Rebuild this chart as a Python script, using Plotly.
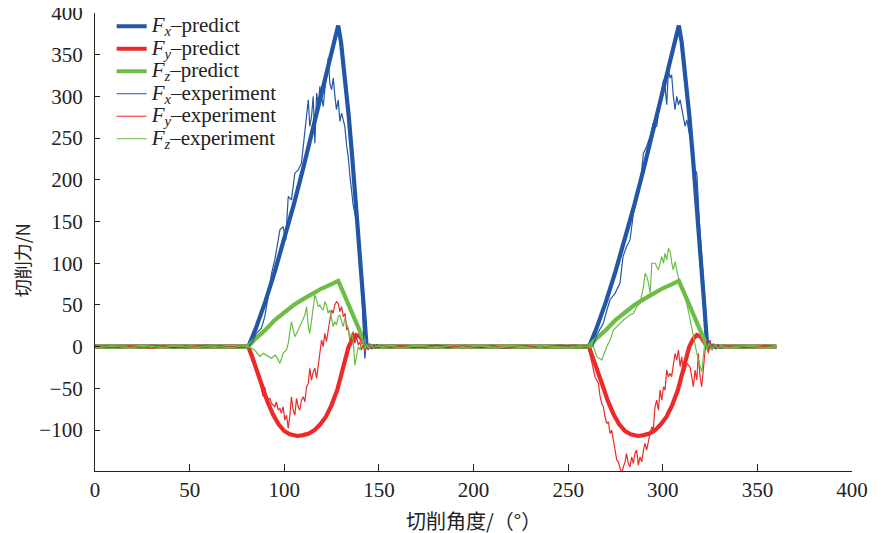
import plotly.graph_objects as go

# ---------------- axis ticks ----------------
x_ticks = [0, 50, 100, 150, 200, 250, 300, 350, 400]
y_ticks = [-100, -50, 0, 50, 100, 150, 200, 250, 300, 350, 400]

# ---------------- predicted forces ----------------
fx_pred_x = [0, 81, 85, 90, 95, 100, 105, 110, 115, 120, 125, 128.5, 130, 132, 134, 136, 138, 140, 142, 143.5,
             261, 265, 270, 275, 280, 285, 290, 295, 300, 305, 308.5, 310, 312, 314, 316, 318, 320, 322, 323.5, 360]
fx_pred_y = [0, 0, 22, 54, 90, 128, 170, 214, 260, 305, 348, 385, 365, 325, 278, 225, 170, 110, 48, 0,
             0, 22, 54, 90, 128, 170, 214, 260, 305, 348, 385, 365, 325, 278, 225, 170, 110, 48, 0, 0]

fy_pred_x = [0, 81, 83, 85, 88, 91, 94, 97, 100, 103, 107, 110, 113, 116, 119, 122, 125, 128, 131, 134, 136, 138, 140, 142, 143.5,
             261, 263, 265, 268, 271, 274, 277, 280, 283, 287, 290, 293, 296, 299, 302, 305, 308, 311, 314, 316, 318, 320, 322, 323.5, 360]
fy_pred_y = [0, 0, -12, -24, -45, -65, -81, -93, -101, -105, -107, -106, -104, -100, -93, -84, -70, -52, -27, 0, 9, 14, 12, 5, 0,
             0, -12, -24, -45, -65, -81, -93, -101, -105, -107, -106, -104, -100, -93, -84, -70, -52, -27, 0, 9, 14, 12, 5, 0, 0]

fz_pred_x = [0, 81, 85, 90, 95, 100, 105, 110, 115, 120, 125, 128.5, 131, 134, 137, 140, 143.5,
             261, 265, 270, 275, 280, 285, 290, 295, 300, 305, 308.5, 311, 314, 317, 320, 323.5, 360]
fz_pred_y = [0, 0, 10, 20, 32, 41, 50, 57, 64, 70, 75, 79, 66, 50, 33, 17, 0,
             0, 10, 20, 32, 41, 50, 57, 64, 70, 75, 79, 66, 50, 33, 17, 0, 0]

# ---------------- experimental forces ----------------
fx_exp_x = [0, 6, 12, 18, 24, 30, 36, 42, 48, 54, 60, 66, 72, 78,
            81, 83, 85.3, 87.9, 89.7, 91.5, 93.3, 95, 96.5, 97.7, 99.4, 100.8, 102.1, 103.8, 105.6, 107.4,
            109.1, 110.9, 112.7, 113.5, 114.4, 115.3, 116.2, 117.1, 118, 118.8, 119.7, 120.6, 121.5, 122.4,
            123.2, 124.1, 125, 125.9, 126.8, 127.6, 128.5, 129.4, 130.3, 131.2, 132, 133, 133.8, 134.7, 135.6,
            136.4, 137.3, 138.2, 139.1, 140, 140.9, 141.7, 142.6, 143.5, 144.3, 145.2, 146.1, 147, 148, 149, 150, 152,
            156, 162, 168, 174, 180, 186, 192, 198, 204, 210, 216, 222, 228, 234, 240, 246, 252, 258,
            260.7, 263, 265.1, 268.6, 270.5, 272.1, 274.8, 277.4, 279, 280.9, 282.7, 284.5, 286.2, 288, 289.8,
            291.5, 293.3, 295, 296.8, 298.6, 300.4, 301.2, 302.1, 303, 303.9, 304.7, 305.6, 306.5, 307.4, 308.3,
            309.2, 310.9, 311.8, 312.7, 313.6, 314.4, 315.3, 316.2, 318, 319.7, 321.1, 322.4, 323.3, 324.1, 325,
            326, 326.8, 328, 329, 330.3, 332,
            336, 342, 348, 354, 360]
fx_exp_y = [1, -1, 1, 0, -1, 2, 0, -1, 1, -1, 0, 1, -1, 0,
            0, 5, 16, 22, 36, 60, 88, 104, 125, 140, 144, 128, 180, 176, 208, 212,
            220, 256, 296, 264, 276, 300, 244, 304, 290, 312, 300, 288, 310, 324,
            346, 316, 308, 322, 300, 284, 296, 270, 280, 270, 264, 240, 228, 205, 184,
            170, 160, 150, 136, 110, 76, 24, -14, 8, -4, 4, -3, 2, -2, 3, -1, 1, 0,
            1, -1, 0, 2, -1, 1, 0, -1, 1, -2, 0, 1, -1, 0, 2, -1, 1, 0,
            0, 14, 28, 44, 56, 64, 76, 108, 120, 128, 160, 176, 192, 232, 240,
            252, 268, 264, 296, 320, 312, 290, 332, 322, 326, 300, 284, 300, 290, 296,
            272, 264, 272, 260, 250, 240, 216, 208, 136, 96, 52, 20, -6, 8, -4,
            4, -3, 2, -2, 1, 0,
            1, -1, 1, 0, 1]

fy_exp_x = [0, 6, 12, 18, 24, 30, 36, 42, 48, 54, 60, 66, 72, 78,
            81, 83.5, 85.3, 87.1, 88.9, 89.7, 90.6, 92.4, 93.3, 95.0, 95.9, 96.8, 97.7, 98.5, 99.4, 100.3,
            101.2, 102.1, 102.9, 103.8, 104.7, 105.6, 106.5, 107.4, 108.2, 109.1, 110.0, 110.9, 111.8, 112.7,
            113.5, 114.4, 115.3, 116.2, 117.1, 117.9, 118.8, 119.7, 120.6, 121.4, 122.3, 123.2, 124.1, 125.0,
            125.8, 126.7, 127.6, 128.5, 129.4, 130.3, 131.2, 132.1, 133.0, 133.8, 134.7, 135.6, 136.4, 137.3,
            138.2, 139.1, 140.0, 140.8, 141.7, 142.6, 143.5, 144.5, 145.5, 146.5, 147.5, 149, 151, 153,
            157, 163, 169, 175, 181, 187, 193, 199, 205, 211, 217, 223, 229, 235, 241, 247, 253, 259,
            260.7, 262.4, 264.2, 266.0, 266.9, 267.8, 268.6, 269.5, 270.4, 271.3, 272.1, 273.0, 273.9, 274.8,
            275.7, 276.5, 277.4, 278.3, 279.2, 280.1, 280.9, 281.8, 282.7, 283.6, 284.5, 285.3, 286.2, 287.1,
            288.0, 288.9, 289.8, 290.6, 291.5, 292.4, 293.3, 294.2, 295.0, 295.9, 296.8, 297.7, 298.6, 299.5,
            300.4, 301.2, 302.1, 303.0, 303.9, 304.7, 305.6, 306.5, 307.4, 308.3, 309.2, 310.0, 310.9, 311.8,
            312.7, 314.4, 315.3, 316.2, 317.1, 318.0, 318.8, 319.7, 320.6, 321.5, 322.4, 323.3, 324.1, 325.0,
            326, 327, 328, 329.5, 331, 333,
            337, 343, 349, 355, 360]
fy_exp_y = [0, 1, -1, 1, 0, -2, 1, 0, -1, 1, 2, -1, 0, 1,
            0, -10, -24, -44, -60, -48, -64, -62, -68, -72, -66, -76, -74, -80, -72, -88,
            -82, -98, -84, -60, -76, -82, -62, -72, -76, -64, -60, -66, -48, -44,
            -26, -40, -30, -26, -38, -24, -4, 8, 0, 16, 6, 22, 32, 44,
            40, 50, 54, 52, 42, 48, 36, 40, 20, 22, 8, 12, 18, 4,
            12, 2, 6, -4, 2, -6, 4, -3, 3, -2, 2, -1, 1, 0,
            -1, 1, 0, -1, 2, 0, 1, -1, 0, 1, -2, 1, 0, -1, 1, 0, 2, -1,
            0, -16, -36, -44, -60, -68, -72, -84, -92, -90, -104, -100, -112, -128,
            -136, -138, -144, -152, -144, -138, -128, -140, -144, -132, -140, -128, -124, -142,
            -132, -138, -124, -116, -124, -112, -104, -96, -100, -72, -64, -76, -52, -64,
            -48, -52, -28, -36, -32, -36, -24, -8, -16, -4, -24, -12, -32, -28,
            -20, -24, -36, -48, -28, -40, -8, -36, -48, -24, -4, 8, -8, 6,
            -4, 3, -2, 2, -1, 0,
            1, -1, 0, 1, 0]

fz_exp_x = [0, 6, 12, 18, 24, 30, 36, 42, 48, 54, 60, 66, 72, 78,
            81, 84.4, 87.1, 88.9, 90.6, 93.3, 95.0, 95.9, 97.7, 99.4, 101.2, 102.1, 103.8, 105.6, 107.4,
            109.1, 110.9, 111.8, 112.7, 113.5, 114.4, 115.3, 116.2, 117.1, 117.9, 118.8, 119.7, 120.6, 121.5,
            122.3, 123.2, 124.1, 125.0, 125.8, 126.7, 127.6, 128.5, 129.4, 130.3, 131.2, 132.0, 132.9, 133.8,
            134.7, 135.6, 136.4, 137.3, 138.2, 139.1, 140.0, 140.8, 141.7, 142.6, 143.5, 144.5, 145.5, 147, 149, 151,
            155, 161, 167, 173, 179, 185, 191, 197, 203, 209, 215, 221, 227, 233, 239, 245, 251, 257,
            260.7, 263.4, 265.2, 267.8, 270.4, 272.2, 273.9, 276.6, 279.2, 282.8, 284.5, 286.3, 288.0, 289.8,
            290.7, 291.6, 292.5, 293.4, 294.2, 296.0, 297.7, 299.5, 300.4, 301.2, 302.1, 303.0, 303.9, 304.8,
            305.6, 306.5, 307.4, 308.3, 310.9, 312.7, 314.5, 316.2, 318.0, 319.8, 320.7, 321.5, 322.4, 323.3,
            324.5, 326, 327.5, 329, 331,
            335, 341, 347, 353, 360]
fz_exp_y = [-1, 0, 1, -1, 0, 1, -1, 1, 0, -1, 1, 0, -1, 1,
            0, -4, -12, -8, -10, -14, -10, -12, -20, -8, -4, 4, 30, 12, 20,
            28, 38, 48, 24, 16, 32, 48, 62, 56, 48, 50, 46, 44, 54,
            50, 40, 44, 34, 24, 30, 26, 36, 38, 30, 24, 34, 28, 22,
            10, 16, 8, -22, -12, 0, -4, 4, 8, -3, 3, -2, 2, -1, 1, 0,
            1, -1, 0, 1, -1, 0, 2, -1, 1, 0, -1, 1, 0, -2, 1, 0, -1, 1,
            0, 0, -12, -16, 0, 8, 20, 26, 32, 38, 40, 48, 52, 72,
            88, 84, 76, 64, 100, 100, 92, 108, 100, 112, 104, 118, 114, 100,
            92, 102, 92, 82, 68, 52, 32, 12, -8, -24, -30, -10, 8, -4,
            4, -3, 2, -1, 0,
            -1, 1, 0, -1, 0]

# ---------------- styling ----------------
BLUE = '#2356A6'
RED = '#EC2A2A'
GREEN = '#6BBD45'
AXC = '#222222'
SERIF = 'Liberation Serif, Times New Roman, serif'
CJK = 'Noto Sans CJK SC, sans-serif'


def lg(sub, kind):
    return ('<span style="font-size:21px"><i>F<sub>%s</sub></i>\u2013%s</span>' % (sub, kind))


series = [
    (lg('x', 'predict'), fx_pred_x, fx_pred_y, BLUE, 4.2),
    (lg('y', 'predict'), fy_pred_x, fy_pred_y, RED, 4.2),
    (lg('z', 'predict'), fz_pred_x, fz_pred_y, GREEN, 4.2),
    (lg('x', 'experiment'), fx_exp_x, fx_exp_y, BLUE, 1.2),
    (lg('y', 'experiment'), fy_exp_x, fy_exp_y, RED, 1.2),
    (lg('z', 'experiment'), fz_exp_x, fz_exp_y, GREEN, 1.2),
]

fig = go.Figure()
for name, xs, ys, col, w in series:
    fig.add_trace(go.Scatter(x=xs, y=ys, mode='lines', name=name,
                             line=dict(color=col, width=w)))

axis_common = dict(showline=True, linecolor=AXC, linewidth=1.3, ticks='inside',
                   tickcolor=AXC, tickwidth=1.3, showgrid=False, zeroline=False,
                   automargin=False, ticklabeloverflow='allow',
                   tickfont=dict(family=SERIF, size=21, color=AXC))

# the page body adds an 8 px offset, so the figure is sized to the visible area
fig.update_layout(
    width=873, height=525,
    margin=dict(l=87, r=29, t=5, b=62, autoexpand=False),
    paper_bgcolor='white', plot_bgcolor='white',
    showlegend=True,
    legend=dict(x=0.022, y=1.0066, xanchor='left', yanchor='top',
                font=dict(family=SERIF, size=15, color=AXC),
                bgcolor='rgba(0,0,0,0)', borderwidth=0),
    xaxis=dict(range=[0, 400], tickvals=x_ticks, ticklen=7, ticklabelstandoff=0, **axis_common),
    yaxis=dict(range=[-149, 400], tickvals=y_ticks, ticklen=5, ticklabelstandoff=7, **axis_common),
    annotations=[
        dict(text='切削角度/（°）', xref='paper', yref='paper', x=0.5, y=-0.107,
             xanchor='center', yanchor='middle', showarrow=False,
             font=dict(family=CJK, size=20, color=AXC)),
        dict(text='切削力/N', xref='paper', yref='paper', x=-0.0964, y=0.46,
             xanchor='center', yanchor='middle', showarrow=False, textangle=-90,
             font=dict(family=CJK, size=18, color=AXC)),
    ],
)

fig.write_html('out.html')
